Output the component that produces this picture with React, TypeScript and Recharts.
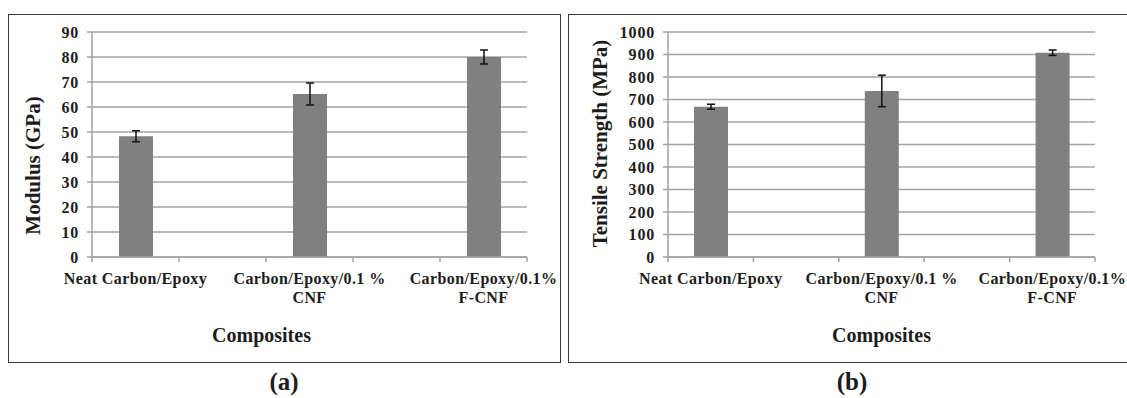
import { BarChart, Bar, XAxis, YAxis, CartesianGrid, ErrorBar } from 'recharts'

// one entry per slot of the category axis; the empty slots hold no bar
const categoryLines: string[][] = [
  ['Neat Carbon/Epoxy'],
  [],
  ['Carbon/Epoxy/0.1 %', 'CNF'],
  [],
  ['Carbon/Epoxy/0.1%', 'F-CNF'],
]

const modulus = [48.3, null, 65.2, null, 80.0]
const modulusErr = [2.2, null, 4.4, null, 2.8]
const strength = [668, null, 738, null, 908]
const strengthErr = [11, null, 70, null, 12]

const modulusTicks = [0, 10, 20, 30, 40, 50, 60, 70, 80, 90]
const strengthTicks = [0, 100, 200, 300, 400, 500, 600, 700, 800, 900, 1000]

const FONT = '"Liberation Serif", "Times New Roman", serif'
const GRID = '#a3a3a3'
const TEXT = '#1c1c1c'
const BAR = '#808080'

// Excel style: tick marks sit on the slot edges, labels in the slot middle
function CategoryTick(props: any) {
  const { x, y, payload, width, visibleTicksCount, index } = props
  const band = Number(width) / Number(visibleTicksCount || categoryLines.length)
  const lines = categoryLines[payload.value] ?? []
  return (
    <g>
      <line x1={x - band / 2} x2={x - band / 2} y1={y} y2={y + 5} stroke={GRID} strokeWidth={1.5} />
      {index === visibleTicksCount - 1 && (
        <line x1={x + band / 2} x2={x + band / 2} y1={y} y2={y + 5} stroke={GRID} strokeWidth={1.5} />
      )}
      <text x={x} y={y} textAnchor="middle" fontSize={16} fontWeight="bold" fill={TEXT} letterSpacing={0.4}>
        {lines.map((l, i) => (
          <tspan key={i} x={x} dy={i === 0 ? 27 : 19}>
            {l}
          </tspan>
        ))}
      </text>
    </g>
  )
}

interface PanelProps {
  left: number
  width: number
  values: (number | null)[]
  errors: (number | null)[]
  ticks: number[]
  axisWidth: number
  marginRight: number
  yTitle: string
  yTitleDx: number
  yTitleDy: number
  xTitleDx: number
}

function Panel({ left, width, values, errors, ticks, axisWidth, marginRight, yTitle, yTitleDx, yTitleDy, xTitleDx }: PanelProps) {
  const rows = categoryLines.map((_, i) => ({ slot: i, value: values[i], err: errors[i] }))
  return (
    <div style={{ position: 'absolute', left, top: 0 }}>
      <BarChart
        width={width}
        height={363}
        data={rows}
        margin={{ top: 32, right: marginRight, bottom: 0, left: 0 }}
      >
        <CartesianGrid vertical={false} stroke={GRID} strokeWidth={1.5} />
        <XAxis
          dataKey="slot"
          height={106}
          stroke={GRID}
          strokeWidth={1.5}
          tickLine={false}
          tickSize={0}
          tickMargin={0}
          interval={0}
          tick={<CategoryTick />}
          label={{
            value: 'Composites',
            position: 'center',
            dx: xTitleDx,
            dy: 25,
            fontSize: 20,
            fontWeight: 'bold',
            fill: TEXT,
          }}
        />
        <YAxis
          width={axisWidth}
          domain={[0, ticks[ticks.length - 1]]}
          ticks={ticks}
          interval={0}
          stroke={GRID}
          strokeWidth={1.5}
          tickSize={5}
          tickMargin={8}
          tick={{ fontSize: 16, fontWeight: 'bold', fill: TEXT, letterSpacing: 0.8 }}
          label={{
            value: yTitle,
            angle: -90,
            position: 'center',
            dx: yTitleDx,
            dy: yTitleDy,
            fontSize: 21,
            fontWeight: 'bold',
            fill: TEXT,
          }}
        />
        <Bar dataKey="value" fill={BAR} barSize={34} isAnimationActive={false}>
          <ErrorBar dataKey="err" width={4} stroke="#111" strokeWidth={1.5} />
        </Bar>
      </BarChart>
    </div>
  )
}

export default function App() {
  const box = {
    position: 'absolute' as const,
    top: 14,
    height: 349,
    border: '1.5px solid #3a3a3a',
    boxSizing: 'border-box' as const,
  }
  const caption = {
    position: 'absolute' as const,
    top: 368,
    width: 100,
    textAlign: 'center' as const,
    fontSize: 25,
    fontWeight: 'bold' as const,
    color: TEXT,
  }
  return (
    <div
      style={{
        position: 'fixed',
        left: 0,
        top: 0,
        width: 1127,
        height: 398,
        overflow: 'hidden',
        background: '#fff',
        fontFamily: FONT,
      }}
    >
      <div style={{ ...box, left: 8, width: 553 }} />
      <div style={{ ...box, left: 568, width: 570 }} />
      <Panel
        left={0}
        width={560}
        values={modulus}
        errors={modulusErr}
        ticks={modulusTicks}
        axisWidth={92}
        marginRight={33}
        yTitle="Modulus (GPa)"
        yTitleDx={-13}
        yTitleDy={21}
        xTitleDx={-48}
      />
      <Panel
        left={560}
        width={567}
        values={strength}
        errors={strengthErr}
        ticks={strengthTicks}
        axisWidth={108}
        marginRight={32}
        yTitle="Tensile Strength (MPa)"
        yTitleDx={-14}
        yTitleDy={-1}
        xTitleDx={0}
      />
      <div style={{ ...caption, left: 234 }}>(a)</div>
      <div style={{ ...caption, left: 802 }}>(b)</div>
    </div>
  )
}
